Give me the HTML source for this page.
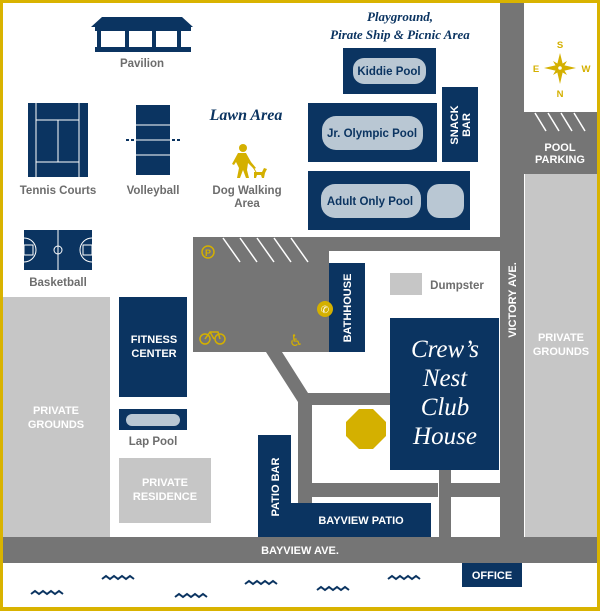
<!DOCTYPE html>
<html><head><meta charset="utf-8"><style>
body{margin:0;width:600px;height:611px;overflow:hidden;background:#fff}
svg{display:block}
.l{font-family:"Liberation Sans",sans-serif;font-weight:bold;fill:#6d6d6d;font-size:11.5px;text-anchor:middle}
.w{font-family:"Liberation Sans",sans-serif;font-weight:bold;fill:#fff;font-size:11px;text-anchor:middle}
.n{font-family:"Liberation Sans",sans-serif;font-weight:bold;fill:#0b3461;font-size:11.5px;text-anchor:middle}
.s{font-family:"Liberation Serif",serif;font-style:italic;font-weight:bold;fill:#0b3461;text-anchor:middle}
</style></head><body>
<svg width="600" height="611" viewBox="0 0 600 611">
<rect x="0" y="0" width="600" height="611" fill="#d9b300"/>
<rect x="3" y="3" width="594" height="604" fill="#fff"/>
<g fill="#757575">
<rect x="500" y="3" width="24" height="560"/>
<rect x="524" y="112" width="73" height="62"/>
<rect x="3" y="537" width="594" height="26"/>
<rect x="193" y="237" width="307" height="14"/>
<rect x="193" y="237" width="136" height="115"/>
<polygon points="266,352 282,352 308,393 390,393 390,405 312,405 312,537 298,537 298,402"/>
<rect x="298" y="483" width="140" height="14"/>
<rect x="439" y="465" width="12" height="72"/>
<rect x="451" y="483" width="49" height="14"/>
</g>
<g stroke="#fff" stroke-width="1.5">
<line x1="223" y1="238" x2="240" y2="262"/><line x1="240" y1="238" x2="257" y2="262"/><line x1="257" y1="238" x2="274" y2="262"/><line x1="274" y1="238" x2="291" y2="262"/><line x1="291" y1="238" x2="308" y2="262"/>
<line x1="535" y1="113" x2="546" y2="131"/><line x1="548" y1="113" x2="559" y2="131"/><line x1="561" y1="113" x2="572" y2="131"/><line x1="574" y1="113" x2="585" y2="131"/>
</g>
<text class="w" x="560" y="151" font-size="12">POOL</text>
<text class="w" x="560" y="163" font-size="12">PARKING</text>
<g fill="#c6c6c6">
<rect x="3" y="297" width="107" height="240"/>
<rect x="525" y="174" width="72" height="363"/>
<rect x="119" y="458" width="92" height="65"/>
<rect x="390" y="273" width="32" height="22"/>
</g>
<text class="w" x="56" y="414">PRIVATE</text><text class="w" x="56" y="428">GROUNDS</text>
<text class="w" x="561" y="341">PRIVATE</text><text class="w" x="561" y="355">GROUNDS</text>
<text class="w" x="165" y="486">PRIVATE</text><text class="w" x="165" y="500">RESIDENCE</text>
<text class="l" x="457" y="289">Dumpster</text>
<g fill="#0b3461">
<rect x="343" y="48" width="93" height="46"/>
<rect x="308" y="103" width="129" height="59"/>
<rect x="442" y="87" width="36" height="75"/>
<rect x="308" y="171" width="162" height="59"/>
<rect x="329" y="263" width="36" height="89"/>
<rect x="390" y="318" width="109" height="152"/>
<rect x="258" y="435" width="33" height="102"/>
<rect x="291" y="503" width="140" height="34"/>
<rect x="119" y="297" width="68" height="100"/>
<rect x="119" y="409" width="68" height="21"/>
<rect x="462" y="563" width="60" height="24"/>
</g>
<g fill="#b9c7d3">
<rect x="353" y="58" width="73" height="26" rx="11"/>
<rect x="322" y="116" width="101" height="34" rx="14"/>
<rect x="321" y="184" width="100" height="34" rx="14"/>
<rect x="427" y="184" width="37" height="34" rx="12"/>
<rect x="126" y="414" width="54" height="12" rx="6"/>
</g>
<text class="n" x="389" y="75">Kiddie Pool</text>
<text class="n" x="372" y="137">Jr. Olympic Pool</text>
<text class="n" x="370" y="205">Adult Only Pool</text>
<text class="w" transform="translate(458,125) rotate(-90)">SNACK</text>
<text class="w" transform="translate(470,125) rotate(-90)">BAR</text>
<text class="w" transform="translate(351,308) rotate(-90)">BATHHOUSE</text>
<text class="w" transform="translate(279,487) rotate(-90)">PATIO BAR</text>
<text class="w" x="361" y="524">BAYVIEW PATIO</text>
<text class="w" x="154" y="343">FITNESS</text><text class="w" x="154" y="357">CENTER</text>
<text class="l" x="153" y="445">Lap Pool</text>
<text class="w" x="492" y="579">OFFICE</text>
<text class="w" x="300" y="554">BAYVIEW AVE.</text>
<text class="w" transform="translate(516,300) rotate(-90)">VICTORY AVE.</text>
<text class="s" x="445" y="357" font-size="25" style="fill:#fff;font-weight:normal">Crew’s</text>
<text class="s" x="445" y="386" font-size="25" style="fill:#fff;font-weight:normal">Nest</text>
<text class="s" x="445" y="415" font-size="25" style="fill:#fff;font-weight:normal">Club</text>
<text class="s" x="445" y="444" font-size="25" style="fill:#fff;font-weight:normal">House</text>
<polygon fill="#d4b000" points="359,409 373,409 386,422 386,436 373,449 359,449 346,436 346,422"/>
<text class="s" x="400" y="21" font-size="13">Playground,</text>
<text class="s" x="400" y="39" font-size="13">Pirate Ship &amp; Picnic Area</text>
<text class="s" x="246" y="120" font-size="16">Lawn Area</text>
<g fill="#0b3461">
<polygon points="91,27 102,17 182,17 193,27"/>
<rect x="95" y="27" width="96" height="4"/>
<rect x="97" y="31" width="4" height="17"/><rect x="125" y="31" width="4" height="17"/><rect x="152" y="31" width="4" height="17"/><rect x="177" y="31" width="4" height="17"/>
<rect x="95" y="47" width="96" height="5"/>
</g>
<text class="l" x="142" y="67">Pavilion</text>
<rect x="28" y="103" width="60" height="74" fill="#0b3461"/>
<g stroke="#fff" stroke-width="1" fill="none">
<line x1="36" y1="103" x2="36" y2="177"/><line x1="79" y1="103" x2="79" y2="177"/>
<line x1="36" y1="120" x2="79" y2="120"/><line x1="36" y1="162" x2="79" y2="162"/>
<line x1="58" y1="120" x2="58" y2="162"/>
</g>
<text class="l" x="58" y="194">Tennis Courts</text>
<rect x="136" y="105" width="34" height="70" fill="#0b3461"/>
<g stroke="#fff" stroke-width="1"><line x1="136" y1="125" x2="170" y2="125"/><line x1="136" y1="155" x2="170" y2="155"/><line x1="136" y1="140" x2="170" y2="140"/></g>
<g fill="#0b3461"><rect x="126" y="139" width="3" height="2"/><rect x="131" y="139" width="3" height="2"/><rect x="172" y="139" width="3" height="2"/><rect x="177" y="139" width="3" height="2"/></g>
<text class="l" x="153" y="194">Volleyball</text>
<rect x="24" y="230" width="68" height="40" fill="#0b3461"/>
<g stroke="#fff" stroke-width="1" fill="none"><line x1="58" y1="230" x2="58" y2="270"/><circle cx="58" cy="250" r="4"/><path d="M24,238 A12,12 0 0 1 24,262"/><path d="M92,238 A12,12 0 0 0 92,262"/><rect x="24" y="245" width="9" height="10"/><rect x="83" y="245" width="9" height="10"/></g>
<text class="l" x="58" y="286">Basketball</text>
<g fill="#d4b000"><circle cx="243" cy="148" r="4"/><path d="M238,153 L246,153 L251,162 L256,168 L254,169 L248,163 L247,170 L249,178 L246,178 L243,170 L240,178 L237,178 L239,168 L236,162 L234,165 L232,164z"/><path d="M254,172 L262,172 L264,168 L267,169 L265,173 L264,178 L262,178 L261,175 L257,175 L256,178 L254,178z"/></g>
<line x1="250" y1="162" x2="256" y2="172" stroke="#d4b000" stroke-width="1"/>
<text class="l" x="247" y="194">Dog Walking</text><text class="l" x="247" y="207">Area</text>
<g fill="#d4b000"><polygon points="560,53 563,65 576,68 563,71 560,84 557,71 544,68 557,65"/><polygon points="553,61 560,65 567,61 563,68 567,75 560,71 553,75 557,68"/></g>
<circle cx="560" cy="68" r="1.8" fill="#fff"/>
<g font-family="Liberation Sans" font-weight="bold" font-size="9.5" fill="#d4b000" text-anchor="middle"><text x="560" y="48">S</text><text x="536" y="72">E</text><text x="586" y="72">W</text><text x="560" y="97">N</text></g>
<circle cx="208" cy="252" r="6" fill="none" stroke="#d4b000" stroke-width="1.5"/><text x="208" y="256" font-family="Liberation Sans" font-weight="bold" font-size="9" fill="#d4b000" text-anchor="middle">P</text>
<g fill="none" stroke="#d4b000" stroke-width="1.5"><circle cx="205" cy="339" r="5"/><circle cx="220" cy="339" r="5"/><path d="M205,339 L210,332 L218,332 L220,339 M210,332 L214,339"/></g>
<circle cx="325" cy="309" r="8" fill="#d4b000"/><text x="325" y="313" font-size="10" fill="#fff" text-anchor="middle" font-family="DejaVu Sans">✆</text>
<text x="296" y="346" font-size="16" fill="#d4b000" text-anchor="middle" font-family="DejaVu Sans">♿</text>
<g fill="none" stroke="#0b3461" stroke-width="2">
<path d="M31,594 l4,-3 l4,3 l4,-3 l4,3 l4,-3 l4,3 l4,-3 l4,3"/>
<path d="M102,579 l4,-3 l4,3 l4,-3 l4,3 l4,-3 l4,3 l4,-3 l4,3"/>
<path d="M175,597 l4,-3 l4,3 l4,-3 l4,3 l4,-3 l4,3 l4,-3 l4,3"/>
<path d="M245,584 l4,-3 l4,3 l4,-3 l4,3 l4,-3 l4,3 l4,-3 l4,3"/>
<path d="M317,590 l4,-3 l4,3 l4,-3 l4,3 l4,-3 l4,3 l4,-3 l4,3"/>
<path d="M388,579 l4,-3 l4,3 l4,-3 l4,3 l4,-3 l4,3 l4,-3 l4,3"/>
</g>
</svg>
</body></html>
